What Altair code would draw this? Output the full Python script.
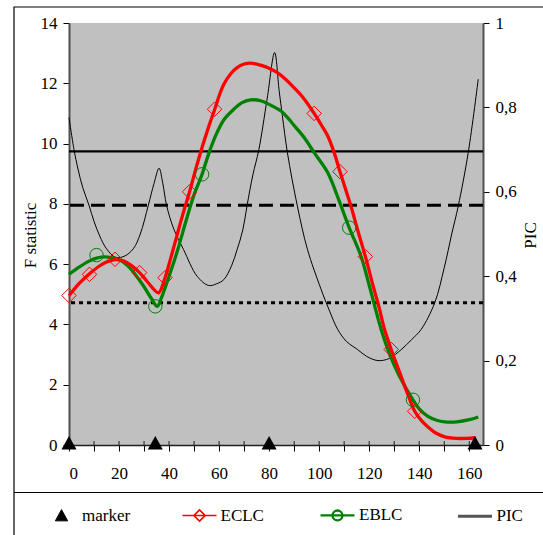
import altair as alt
import pandas as pd

# ---------------- data ----------------
eclc_x = [0, 4, 8.2, 12, 15, 18.4, 22, 25, 28.2, 31, 33.5, 35.8, 38.4, 40.5, 43.1, 45.5, 48.2, 51, 53.5, 56,
          58.2, 60, 61.9, 64.5, 67.2, 70, 72.6, 76.6, 80, 83.3, 87, 90, 94, 98, 101, 103.4, 106, 108.3, 110.5,
          112.7, 115.5, 118.5, 121.5, 124, 126.1, 128.8, 132, 135, 138.2, 141, 143.5, 147, 150.2, 155, 159, 162.5]
eclc_y = [4.95, 5.35, 5.68, 5.93, 6.07, 6.15, 6.1, 5.95, 5.72, 5.45, 5.2, 5.05, 5.55, 6.15, 6.93, 7.65, 8.4,
          9.25, 9.95, 10.6, 11.12, 11.58, 11.97, 12.3, 12.52, 12.64, 12.67, 12.6, 12.5, 12.35, 12.1, 11.85, 11.48,
          11.0, 10.6, 10.26, 9.7, 9.07, 8.5, 7.93, 7.1, 6.25, 5.3, 4.55, 3.85, 3.17, 2.45, 1.78, 1.12, 0.8, 0.6,
          0.38, 0.27, 0.22, 0.22, 0.24]

eblc_x = [0, 4, 8, 11, 14, 17, 20, 24, 27, 30, 33, 35.3, 37, 40, 43.1, 47, 50, 53.2, 56, 59.2, 62, 65.9, 69,
          72.6, 76.6, 80, 84.6, 88, 90, 94, 98, 103.4, 108, 112, 116.7, 120, 124.8, 128, 132, 137.5, 140, 143.5,
          147, 150.2, 155, 160, 163.6]
eblc_y = [5.66, 5.9, 6.1, 6.2, 6.24, 6.22, 6.15, 5.9, 5.6, 5.25, 4.85, 4.6, 4.9, 5.6, 6.38, 7.5, 8.3, 8.98, 9.7,
          10.37, 10.8, 11.14, 11.35, 11.45, 11.42, 11.3, 11.09, 10.8, 10.6, 10.2, 9.7, 9.04, 8.1, 7.21, 6.27, 5.3,
          3.83, 3.05, 2.3, 1.5, 1.2, 0.95, 0.82, 0.77, 0.77, 0.84, 0.93]

pic_x = [0, 2, 3.6, 5.5, 8, 10, 12.3, 15, 18.5, 22, 25.7, 28.5, 31.7, 34, 36, 37.5, 39, 42, 45.8, 51.2, 55.8,
         59, 61.9, 65, 67.2, 69.5, 71.2, 73.5, 75.9, 79.2, 82.2, 84, 85.3, 87.3, 91.3, 95.3, 100.7, 104, 107.4,
         111, 115.4, 119, 123.5, 128, 132.8, 137, 140.8, 146.2, 150, 153, 155.6, 159.6, 163.6]
pic_y = [0.776, 0.70, 0.654, 0.61, 0.568, 0.53, 0.495, 0.465, 0.445, 0.447, 0.465, 0.5, 0.568, 0.62, 0.656,
         0.62, 0.568, 0.51, 0.463, 0.40, 0.378, 0.382, 0.392, 0.425, 0.463, 0.51, 0.568, 0.64, 0.70, 0.82, 0.93,
         0.84, 0.78, 0.693, 0.566, 0.464, 0.37, 0.32, 0.274, 0.245, 0.226, 0.21, 0.2, 0.205, 0.226, 0.25, 0.274,
         0.337, 0.42, 0.5, 0.566, 0.693, 0.867]

eclc_mark_x = [0, 8.2, 18.4, 28.2, 38.4, 48.2, 58.2, 98, 108.3, 118.5, 128.8, 138.2]
eclc_mark_y = [4.96, 5.66, 6.16, 5.72, 5.55, 8.4, 11.14, 11.0, 9.07, 6.25, 3.17, 1.12]
eblc_mark_x = [11, 34.5, 53.2, 112, 137.5]
eblc_mark_y = [6.3, 4.6, 8.98, 7.21, 1.5]

marker_x = [0, 34.5, 80, 162.3]
marker_y = [0, 0, 0, 0]

thresholds = [9.74, 7.95, 4.72]

legend_names = ["marker", "ECLC", "EBLC", "PIC"]

x_ticks = list(range(0, 161, 10))
f_ticks = list(range(0, 15, 2))
pic_ticks = [0, 0.2, 0.4, 0.6, 0.8, 1]

# ---------------- styling ----------------
FONT = "Liberation Serif"
W, H = 414, 422
RED, GREEN = "#FF0000", "#008000"
SMOOTH = "catmull-rom"

xscale = alt.Scale(domain=[0, 165.5], nice=False, zero=False)
fscale = alt.Scale(domain=[0, 14], nice=False)
pscale = alt.Scale(domain=[0, 1], nice=False)

x_axis = alt.Axis(values=x_ticks, labelExpr="datum.value % 20 == 0 ? datum.label : ''",
                  tickSize=6, labelPadding=14, grid=False, title=None,
                  domainColor="#202020", domainWidth=1.5)
f_axis = alt.Axis(values=f_ticks, tickSize=6, labelPadding=6, grid=False, title="F statistic",
                  titleAngle=270, titleX=-39, titleY=212, titleBaseline="middle", titleAlign="center",
                  domainColor="#505050", domainWidth=2)
p_axis = alt.Axis(orient="right", values=pic_ticks,
                  labelExpr="replace(toString(round(datum.value*10)/10), '.', ',')",
                  tickSize=6, labelPadding=6, grid=False, title="PIC",
                  titleAngle=270, titleX=47, titleY=212, titleBaseline="middle", titleAlign="center",
                  domainColor="#505050", domainWidth=2)


def X(field):
    return alt.X(field + ":Q", scale=xscale, axis=x_axis)


def YF(field, axis=True):
    if axis:
        return alt.Y(field + ":Q", scale=fscale, axis=f_axis)
    return alt.Y(field + ":Q", scale=fscale, axis=None)


df_eclc = pd.DataFrame({"x": eclc_x, "F": eclc_y})
df_eblc = pd.DataFrame({"x": eblc_x, "F": eblc_y})
df_pic = pd.DataFrame({"x": pic_x, "P": pic_y})
df_eclc_m = pd.DataFrame({"x": eclc_mark_x, "F": eclc_mark_y})
df_eblc_m = pd.DataFrame({"x": eblc_mark_x, "F": eblc_mark_y})
df_marker = pd.DataFrame({"x": marker_x, "F": marker_y})
df_ticks = pd.DataFrame({"t": x_ticks})

# threshold lines (own F-scale group, no axis)
thr_styles = [([1, 0], 2.2), ([14, 7], 3), ([4, 4], 3)]
thr_layers = []
for val, (dash, sw) in zip(thresholds, thr_styles):
    thr_layers.append(
        alt.Chart(pd.DataFrame({"F": [val]})).mark_rule(color="black", strokeWidth=sw, strokeDash=dash)
        .encode(y=YF("F", axis=False))
    )
thr_group = alt.layer(*thr_layers)

pic_line = alt.Chart(df_pic).mark_line(color="black", strokeWidth=1, interpolate=SMOOTH).encode(
    x=X("x"), y=alt.Y("P:Q", scale=pscale, axis=p_axis))

eblc_line = alt.Chart(df_eblc).mark_line(color=GREEN, strokeWidth=3.3, interpolate=SMOOTH).encode(
    x=X("x"), y=YF("F"))
eclc_line = alt.Chart(df_eclc).mark_line(color=RED, strokeWidth=3.3, interpolate=SMOOTH).encode(
    x=X("x"), y=YF("F"))
eblc_pts = alt.Chart(df_eblc_m).mark_point(shape="circle", color=GREEN, size=180, strokeWidth=1,
                                           filled=False, opacity=1).encode(x=X("x"), y=YF("F"))
eclc_pts = alt.Chart(df_eclc_m).mark_point(shape="diamond", color=RED, size=210, strokeWidth=1,
                                           filled=False, opacity=1).encode(x=X("x"), y=YF("F"))
tri = alt.Chart(df_marker).mark_point(shape="M0,-1.2L-1,0.6L1,0.6Z", filled=True, color="black",
                                      size=225, opacity=1).encode(x=X("x"), y=YF("F"))
inner_ticks = alt.Chart(df_ticks).mark_rule(color="#202020", strokeWidth=1).encode(
    x=X("t"), y=alt.value(H - 4), y2=alt.value(H))

main_group = alt.layer(eblc_line, eclc_line, eblc_pts, eclc_pts, inner_ticks, tri)

# decorations: outer frame and legend separator
one = pd.DataFrame({"k": [0]})
frame = alt.Chart(one).mark_rect(fillOpacity=0, stroke="black", strokeWidth=1.2).encode(
    x=alt.value(-55), x2=alt.value(600), y=alt.value(-16), y2=alt.value(600))
sep = alt.Chart(one).mark_rule(color="black", strokeWidth=1.2).encode(
    x=alt.value(-55), x2=alt.value(600), y=alt.value(469.5))

# legend
paths = [
    "M0,-0.36L0.36,0.3L-0.36,0.3Z",
    "M-1,0L1,0M-0.33,0L0,-0.33L0.33,0L0,0.33Z",
    "M-1,0L1,0M0.29,0A0.29,0.29 0 1 1 -0.29,0A0.29,0.29 0 1 1 0.29,0Z",
    "M-1,0L1,0",
]
leg_def = alt.Legend(title=None, orient="none", legendX=-25, legendY=473.5, direction="horizontal",
                     gridAlign="all", columnPadding=45.5, labelOffset=3, symbolSize=1156, padding=0,
                     labelFont=FONT, labelFontSize=17, labelColor="black", labelLimit=200)
df_leg = pd.DataFrame({"series": legend_names})
legend_layer = alt.Chart(df_leg).mark_point(size=1156, opacity=1).encode(
    x=alt.value(-1000), y=alt.value(-1000),
    shape=alt.Shape("series:N", scale=alt.Scale(domain=legend_names, range=paths), legend=leg_def),
    stroke=alt.Stroke("series:N", scale=alt.Scale(domain=legend_names,
                                                  range=["black", RED, GREEN, "#555555"]), legend=leg_def),
    fill=alt.Fill("series:N", scale=alt.Scale(domain=legend_names,
                                              range=["black", "transparent", "transparent", "transparent"]),
                  legend=leg_def),
    strokeWidth=alt.StrokeWidth("series:N", scale=alt.Scale(domain=legend_names, range=[1, 3, 3, 1.5]),
                                legend=leg_def),
)

chart = alt.layer(frame, sep, thr_group, pic_line, main_group, legend_layer).resolve_scale(
    y="independent"
).properties(
    width=W, height=H,
    autosize=alt.AutoSizeParams(type="none"),
    padding={"left": 69, "top": 23, "right": 60, "bottom": 90},
).configure(background="white").configure_view(fill="#C0C0C0", strokeWidth=0).configure_axis(
    labelFont=FONT, labelFontSize=17, labelColor="black", titleFont=FONT, titleFontSize=17,
    titleFontWeight="normal", titleColor="black", tickColor="black", tickWidth=1
)

chart.save("out.html", embed_options={"renderer": "svg", "actions": False})
